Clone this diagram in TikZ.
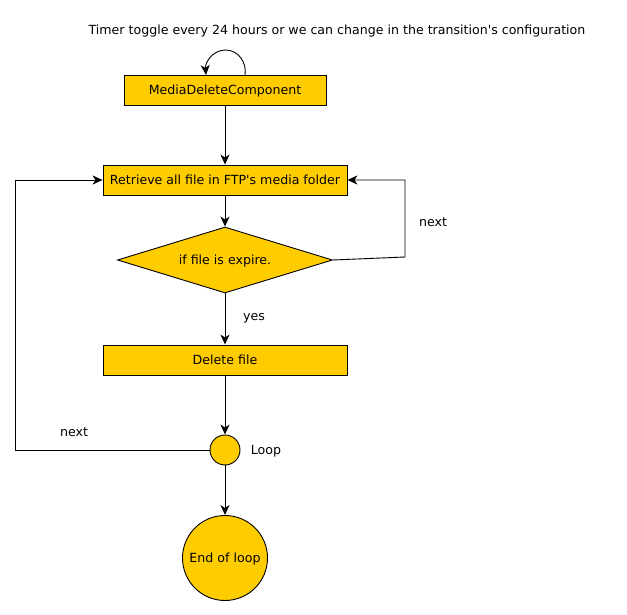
\documentclass[tikz,border=0pt]{standalone}
\usepackage{fontspec}
\setmainfont{DejaVu Sans}
\usetikzlibrary{shapes.geometric,arrows.meta}
\definecolor{boxfill}{HTML}{FFCC00}
\begin{document}
\begin{tikzpicture}[x=1pt,y=-1pt,
  every node/.style={font=\fontsize{12.6}{14}\selectfont, inner sep=0pt, text height=9pt, text depth=0.5pt},
  box/.style={draw=black, line width=0.9pt, fill=boxfill, rectangle, anchor=center},
  dec/.style={draw=black, line width=0.9pt, fill=boxfill, diamond, aspect=3.26, minimum width=215pt, minimum height=66pt, inner sep=0pt},
  rnd/.style={draw=black, line width=0.9pt, fill=boxfill, circle, inner sep=0pt},
  conn/.style={draw=black, line width=0.9pt, -{Stealth[length=10pt,width=9pt,inset=3pt]}},
  lbl/.style={text=black}]
\useasboundingbox (0,0) rectangle (627,615);
\node[lbl] (title) at (337,30.5) {Timer toggle every 24 hours or we can change in the transition\textquotesingle s configuration};
\node[box, minimum width=202pt, minimum height=30pt] (mdc) at (225,90) {MediaDeleteComponent};
\node[box, minimum width=244pt, minimum height=30pt] (ret) at (225,180) {Retrieve all file in FTP\textquotesingle s media folder};
\node[dec] (dia) at (225,260) {};
\node[lbl] (diat) at (225,260.5) {if file is expire.};
\node[box, minimum width=244pt, minimum height=30pt] (del) at (225,360) {Delete file};
\node[rnd, minimum size=30pt] (loop) at (225,450) {};
\node[rnd, minimum size=85pt] (end) at (225,558) {End of loop};
\node[lbl] (next1) at (433,222.5) {next};
\node[lbl] (yes) at (254,316.5) {yes};
\node[lbl] (next2) at (74,432.5) {next};
\node[lbl] (loopl) at (266,450.5) {Loop};
\coordinate (sa) at (245,75);
\coordinate (sb) at (206,75);
\coordinate (r1) at (405,257);
\coordinate (r2) at (405,180);
\coordinate (l1) at (15,450);
\coordinate (l2) at (15,180);
\draw[conn] (sa) .. controls (247,62) and (238,50) .. (225.5,50) .. controls (213,50) and (205,62) .. (sb);
\draw[conn] (mdc.south) -- (ret.north);
\draw[conn] (ret.south) -- (dia.north);
\draw[conn] (dia.east) -- (r1) -- (r2) -- (ret.east);
\draw[conn] (dia.south) -- (del.north);
\draw[conn] (del.south) -- (loop.north);
\draw[conn] (loop.west) -- (l1) -- (l2) -- (ret.west);
\draw[conn] (loop.south) -- (end.north);
\end{tikzpicture}
\end{document}
